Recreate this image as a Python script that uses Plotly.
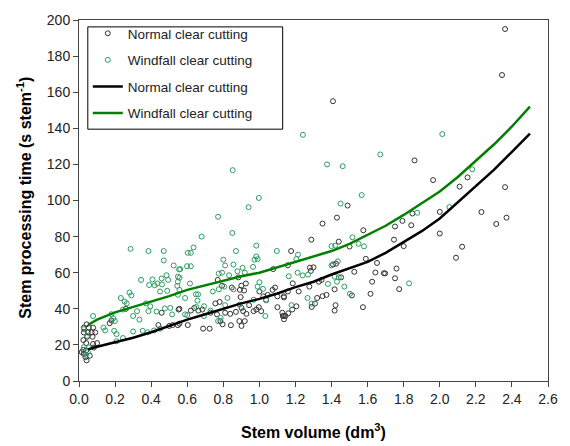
import plotly.graph_objects as go

# ---------------- data ----------------
normal_x = [
    0.042, 0.027, 0.054, 0.078, 0.027, 0.049, 0.07, 0.09, 0.045, 0.075, 0.024, 0.04, 0.078, 0.082,
    0.024, 0.04, 0.027, 0.036, 0.042, 0.015, 0.06, 0.1,
    0.17, 0.18, 0.26, 0.44, 0.458, 0.5, 0.519, 0.552, 0.548, 0.557,
    0.769, 0.883, 0.925, 0.90, 0.892, 0.915, 0.896, 0.847, 0.793, 1.077, 1.0, 1.022, 1.046, 1.073,
    1.087, 1.10, 1.136, 1.037, 1.10, 1.127, 1.136, 0.997, 0.968, 0.943, 0.928, 0.91, 0.889, 0.919,
    0.901, 0.842, 0.796, 0.784, 0.765, 0.81, 0.838, 0.729, 0.688, 0.724, 0.603, 0.557, 0.684, 0.662,
    0.639, 0.62, 0.756, 0.78, 0.87, 0.901, 0.983, 1.01,
    1.489, 1.43, 1.35, 1.288, 1.576, 1.176, 1.44, 1.50, 1.59, 1.652, 1.643, 1.69, 1.526, 1.158,
    1.28, 1.30, 1.285, 1.408, 1.425, 1.345, 1.33, 1.453, 1.185, 1.277, 1.218, 1.136, 1.158, 1.625,
    1.616, 1.574, 1.513, 1.417, 1.372, 1.35, 1.32, 1.422, 1.417, 1.308, 1.29, 1.205, 1.182, 1.16,
    1.13, 1.145, 1.136, 1.408,
    1.86, 1.963, 2.154, 2.11, 2.231, 2.0, 1.848, 1.793, 1.752, 1.842, 1.746, 1.80, 2.0, 2.124,
    2.09, 1.697, 1.76, 1.752, 1.775,
    2.362, 2.345, 2.362, 2.37, 2.313,
]
normal_y = [
    31.4, 29.6, 29.6, 29.6, 26.9, 26.9, 26.9, 26.9, 24.5, 24.5, 22.7, 21.0, 20.5, 18.5,
    17.2, 17.0, 15.0, 13.2, 11.4, 16.0, 14.0, 21.0,
    32.0, 33.5, 40.0, 31.0, 37.8, 30.5, 31.0, 39.6, 30.9, 40.0,
    56.0, 57.4, 54.0, 52.8, 50.5, 50.1, 46.5, 51.8, 52.8, 62.0, 49.6, 46.9, 47.7, 50.5,
    51.8, 46.9, 46.9, 45.0, 40.9, 37.8, 36.0, 40.9, 38.7, 42.0, 37.2, 38.7, 33.2, 33.2,
    30.5, 30.9, 31.4, 33.2, 36.9, 37.8, 37.2, 37.8, 29.0, 29.0, 31.0, 31.8, 39.6, 39.0,
    40.5, 39.0, 43.0, 43.8, 38.3, 40.5, 39.6, 38.7,
    97.2, 90.5, 87.2, 78.3, 83.5, 72.0, 77.2, 74.5, 67.7, 65.4, 60.1, 59.7, 60.5, 64.1,
    62.8, 63.0, 61.0, 64.6, 65.0, 56.0, 55.0, 57.4, 54.1, 52.3, 49.6, 46.3, 49.6, 55.0,
    48.3, 40.9, 47.4, 50.8, 47.7, 47.0, 46.0, 42.0, 39.0, 42.9, 41.0, 41.4, 39.6, 37.5,
    36.0, 36.0, 34.2, 155.0,
    122.2, 111.3, 112.8, 107.7, 93.6, 93.7, 92.8, 88.7, 85.6, 86.3, 78.3, 74.7, 81.7, 74.4,
    68.3, 59.6, 62.3, 56.9, 50.9,
    195.0, 169.5, 107.4, 90.5, 87.0,
]

wind_x = [
    0.286, 0.385, 0.47, 0.47, 0.525, 0.555, 0.344, 0.407, 0.434, 0.458, 0.485, 0.494, 0.389, 0.42,
    0.46, 0.449, 0.489, 0.548, 0.548, 0.545, 0.232, 0.253, 0.265, 0.28, 0.29, 0.244, 0.322, 0.371,
    0.395, 0.385, 0.476, 0.506, 0.516, 0.43, 0.30, 0.335, 0.18, 0.19, 0.199, 0.136, 0.145, 0.195,
    0.208, 0.208, 0.244, 0.30, 0.353, 0.38, 0.416, 0.45, 0.078, 0.027, 0.045, 0.027, 0.049, 0.054,
    0.038,
    0.997, 0.94, 0.771, 0.68, 0.85, 0.603, 0.62, 0.635, 0.87, 0.983, 1.097, 0.983, 0.973, 0.99,
    0.80, 0.81, 0.793, 0.775, 0.832, 0.856, 0.878, 0.907, 0.919, 0.965, 0.599, 0.62, 0.561, 0.557,
    0.548, 0.615, 0.557, 0.588, 0.648, 0.66, 0.742, 0.775, 0.805, 0.856, 0.823, 0.657, 0.65, 0.693,
    0.588, 0.60, 0.693, 0.729, 0.771, 0.785, 1.0, 0.99, 1.02, 0.968, 1.037, 1.033, 0.89, 0.81,
    0.852,
    1.241, 1.375, 1.462, 1.67, 1.567, 1.45, 1.516, 1.55, 1.58, 1.40, 1.42, 1.435, 1.40, 1.214,
    1.205, 1.163, 1.212, 1.24, 1.27, 1.417, 1.44, 1.43, 1.471, 1.38, 1.267, 1.502, 1.29, 1.178,
    2.014, 2.18, 2.054, 1.875, 1.83,
]
wind_y = [
    73.2, 72.0, 72.0, 66.8, 64.0, 61.8, 56.0, 56.3, 54.0, 56.8, 58.6, 56.0, 53.2, 53.0,
    53.5, 49.6, 50.0, 57.8, 55.0, 52.7, 46.0, 44.0, 43.0, 49.0, 47.4, 39.6, 38.7, 43.0,
    41.4, 38.7, 40.2, 40.5, 36.9, 38.5, 36.0, 34.0, 37.0, 34.7, 33.2, 29.6, 28.0, 27.8,
    26.0, 22.0, 23.8, 27.4, 27.8, 27.0, 28.0, 29.0, 36.0, 28.7, 25.0, 18.7, 16.0, 18.7,
    14.5,
    101.4, 96.3, 91.0, 80.0, 82.0, 71.0, 71.0, 74.0, 72.0, 75.0, 72.0, 69.0, 67.2, 67.5,
    67.2, 64.0, 60.0, 59.5, 58.6, 64.5, 60.8, 62.7, 60.0, 63.2, 63.6, 63.6, 62.0, 57.2,
    47.8, 54.0, 50.5, 46.0, 48.0, 48.0, 49.6, 50.8, 52.3, 50.8, 46.0, 44.5, 41.0, 41.4,
    36.9, 36.5, 36.0, 39.0, 33.2, 35.0, 54.7, 52.3, 51.0, 45.0, 44.7, 36.0, 42.3, 42.0,
    116.8,
    136.4, 120.0, 119.0, 125.5, 103.0, 98.3, 79.6, 76.0, 74.6, 74.7, 75.0, 66.3, 64.0, 70.0,
    67.6, 58.0, 60.0, 58.5, 59.0, 57.8, 57.5, 55.0, 52.3, 53.8, 46.0, 48.3, 42.9, 42.0,
    136.8, 117.3, 96.3, 93.2, 54.1,
]

curve_x = [0.05, 0.1, 0.2, 0.3, 0.4, 0.5, 0.6, 0.7, 0.8, 0.9, 1.0, 1.1, 1.2,
           1.3, 1.4, 1.5, 1.6, 1.7, 1.8, 1.9, 2.0, 2.1, 2.2, 2.3, 2.4, 2.5]
normal_fit = [17.5, 19, 21.5, 24, 27, 30.5, 34, 37, 40, 43, 45.5, 48.5, 52,
              55, 59, 62.5, 66, 71, 77, 83, 90, 99, 108, 117, 127, 137]
wind_fit = [31, 34, 38, 41, 44, 47, 50.5, 53, 55.6, 58, 60, 63, 66,
            69, 72, 76, 81, 86, 92, 98.5, 105, 113, 122, 131, 141, 152]

x_ticks = [0.0, 0.2, 0.4, 0.6, 0.8, 1.0, 1.2, 1.4, 1.6, 1.8, 2.0, 2.2, 2.4, 2.6]
x_tick_text = ["0.0", "0.2", "0.4", "0.6", "0.8", "1.0", "1.2", "1.4", "1.6", "1.8", "2.0", "2.2", "2.4", "2.6"]
y_ticks = [0, 20, 40, 60, 80, 100, 120, 140, 160, 180, 200]

FONT = "Arial, Liberation Sans, sans-serif"

fig = go.Figure()
fig.add_trace(go.Scatter(
    x=normal_x, y=normal_y, mode="markers", name="Normal clear cutting",
    legendgroup="a",
    marker=dict(symbol="circle-open", size=5, color="#333333", line=dict(width=1, color="#333333")),
))
fig.add_trace(go.Scatter(
    x=wind_x, y=wind_y, mode="markers", name="Windfall clear cutting",
    legendgroup="b",
    marker=dict(symbol="circle-open", size=5, color="#2e9b62", line=dict(width=1, color="#2e9b62")),
))
fig.add_trace(go.Scatter(
    x=curve_x, y=normal_fit, mode="lines", name="Normal clear cutting",
    legendgroup="c",
    line=dict(color="#000000", width=2.5),
))
fig.add_trace(go.Scatter(
    x=curve_x, y=wind_fit, mode="lines", name="Windfall clear cutting",
    legendgroup="d",
    line=dict(color="#008000", width=2.5),
))

# plot area in pixels: x 79..558, y 14..381
def px_x(p):
    return (p - 79) / 479.0

def px_y(p):
    return (381 - p) / 367.0

fig.update_layout(
    width=570, height=446,
    margin=dict(l=79, r=12, t=14, b=65),
    paper_bgcolor="white", plot_bgcolor="white",
    font=dict(family=FONT, size=14, color="#222222"),
    showlegend=True,
    legend=dict(
        x=px_x(88), y=px_y(12), xanchor="left", yanchor="top",
        bgcolor="rgba(0,0,0,0)", borderwidth=0,
        font=dict(family=FONT, size=13.5, color="#222222"),
        tracegroupgap=6, traceorder="grouped",
    ),
    shapes=[
        dict(type="rect", xref="paper", yref="paper",
             x0=px_x(88), x1=px_x(287), y0=px_y(125), y1=px_y(21),
             fillcolor="white", line=dict(color="#000000", width=1), layer="above"),
    ],
    xaxis=dict(
        range=[0, 2.6], tickvals=x_ticks, ticktext=x_tick_text,
        showgrid=False, zeroline=False,
        showline=True, linecolor="#444444", linewidth=1, mirror=True,
        ticks="outside", ticklen=5, tickcolor="#444444",
        tickfont=dict(size=14, color="#222222"),
    ),
    yaxis=dict(
        range=[0, 200], tickvals=y_ticks,
        showgrid=False, zeroline=False,
        showline=True, linecolor="#444444", linewidth=1, mirror=True,
        ticks="outside", ticklen=5, tickcolor="#444444",
        tickfont=dict(size=14, color="#222222"),
    ),
    annotations=[
        dict(text="<b>Stem volume (dm<sup>3</sup>)</b>", xref="paper", yref="paper",
             x=0.5, y=-0.139, xanchor="center", yanchor="middle", showarrow=False,
             font=dict(family=FONT, size=16, color="#000000")),
        dict(text="<b>Stem processing time (s stem<sup>-1</sup>)</b>", xref="paper", yref="paper",
             x=-0.117, y=0.508, xanchor="center", yanchor="middle", showarrow=False, textangle=-90,
             font=dict(family=FONT, size=16, color="#000000")),
    ],
)

fig.write_html("out.html")
